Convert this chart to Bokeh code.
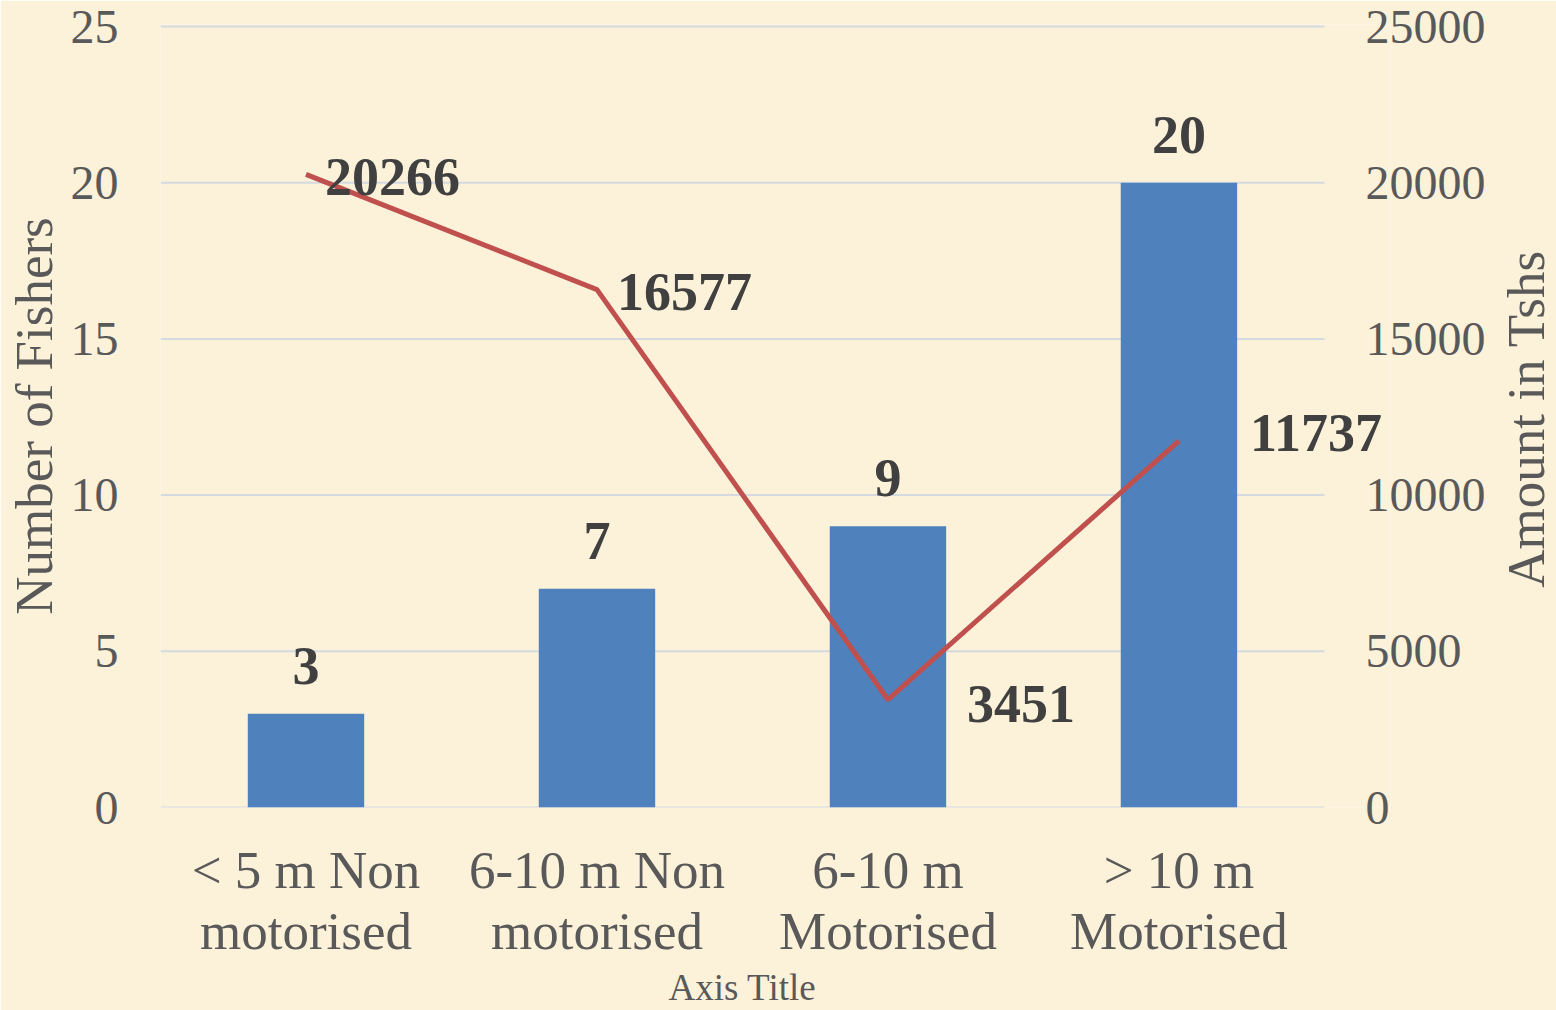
import math
from bokeh.plotting import figure
from bokeh.models import (ColumnDataSource, Range1d, LinearAxis, FixedTicker, LabelSet, Label)
from bokeh.embed import file_html
from bokeh.resources import INLINE

categories = ["< 5 m Non motorised", "6-10 m Non motorised", "6-10 m Motorised", "> 10 m Motorised"]
category_line1 = ["< 5 m Non", "6-10 m Non", "6-10 m", "> 10 m"]
category_line2 = ["motorised", "motorised", "Motorised", "Motorised"]
fishers = [3, 7, 9, 20]
amounts = [20266, 16577, 3451, 11737]
left_ticks = [0, 5, 10, 15, 20, 25]
right_ticks = [0, 5000, 10000, 15000, 20000, 25000]
x_title = "Axis Title"
left_title = "Number of Fishers"
right_title = "Amount in Tshs"

# label placement styles (screen px)
line_label_dx = [19, 20, 79, 71]
line_label_dy = [-3, -2, -4, 8]

BG = "#FCF1D9"
SERIF = "Liberation Serif"
TICK_COLOR = "#595959"
LABEL_COLOR = "#404040"
GRID_COLOR = "#D5DAE0"

n = len(categories)
xs = [i + 0.5 for i in range(n)]          # category centres on the x scale

p = figure(x_range=Range1d(0, 4.227), y_range=Range1d(0, 25.064), width=1556, height=1010,
           output_backend="svg", toolbar_location=None, x_axis_location=None,
           y_axis_location=None,
           min_border_left=160, min_border_right=166, min_border_top=24, min_border_bottom=202)
p.background_fill_color = BG
p.border_fill_color = BG
p.outline_line_color = None
p.extra_y_ranges = {"amt": Range1d(0, 25064)}
p.xgrid.grid_line_color = None
p.ygrid.grid_line_color = None

# horizontal gridlines spanning the category area only
p.segment(x0=0, x1=n, y0=left_ticks, y1=left_ticks, line_color=GRID_COLOR, line_width=2)

src = ColumnDataSource(dict(x=xs, fishers=fishers, amounts=amounts,
                            flab=[str(v) for v in fishers], alab=[str(v) for v in amounts],
                            dx=line_label_dx, dy=line_label_dy))

p.vbar(x="x", top="fishers", width=0.4, source=src, fill_color="#4F81BD", line_color=None)
p.line(x="x", y="amounts", source=src, y_range_name="amt", line_color="#C0504D", line_width=5)

p.add_layout(LabelSet(x="x", y="fishers", text="flab", source=src, text_align="center",
                      text_baseline="alphabetic", y_offset=30, text_font=SERIF,
                      text_font_size="54px", text_font_style="bold", text_color=LABEL_COLOR))
p.add_layout(LabelSet(x="x", y="amounts", text="alab", source=src, y_range_name="amt",
                      text_align="left", text_baseline="middle", x_offset="dx", y_offset="dy",
                      text_font=SERIF, text_font_size="54px", text_font_style="bold",
                      text_color=LABEL_COLOR))

def style_axis(ax):
    ax.axis_line_color = None
    ax.major_tick_line_color = None
    ax.minor_tick_line_color = None
    ax.major_tick_out = 0
    ax.major_tick_in = 0
    ax.minor_tick_out = 0
    ax.minor_tick_in = 0
    ax.major_label_text_font = SERIF
    ax.major_label_text_color = TICK_COLOR
    ax.axis_label_text_font = SERIF
    ax.axis_label_text_color = TICK_COLOR
    ax.axis_label_text_font_style = "normal"

ly = LinearAxis(ticker=FixedTicker(ticks=left_ticks))
style_axis(ly)
ly.major_label_text_font_size = "48px"
ly.major_label_standoff = 42
ly.axis_label = left_title
ly.axis_label_text_font_size = "53px"
ly.axis_label_standoff = 5
p.add_layout(ly, "left")

ry = LinearAxis(y_range_name="amt", ticker=FixedTicker(ticks=right_ticks))
style_axis(ry)
ry.major_label_text_font_size = "48px"
ry.major_label_standoff = -25
p.add_layout(ry, "right")

# right-hand axis title, reading bottom-to-top, placed in the right side panel
p.add_layout(Label(x=4.691, y=12.44, text=right_title, angle=math.pi / 2,
                   text_align="center", text_baseline="middle", text_font=SERIF,
                   text_font_size="53px", text_color=TICK_COLOR), "right")

xa = LinearAxis(ticker=FixedTicker(ticks=xs))
style_axis(xa)
xa.major_label_text_font_size = "53px"
xa.major_label_overrides = dict(zip(xs, category_line1))
xa.major_label_standoff = 33
p.add_layout(xa, "below")

xb = LinearAxis(ticker=FixedTicker(ticks=xs))
style_axis(xb)
xb.major_label_text_font_size = "53px"
xb.major_label_overrides = dict(zip(xs, category_line2))
xb.major_label_standoff = 0
p.add_layout(xb, "below")

xc = LinearAxis(ticker=FixedTicker(ticks=[n / 2]))
style_axis(xc)
xc.major_label_text_font_size = "37px"
xc.major_label_overrides = {n / 2: x_title}
xc.major_label_standoff = 4
p.add_layout(xc, "below")

open("out.html", "w").write(file_html(p, INLINE))
